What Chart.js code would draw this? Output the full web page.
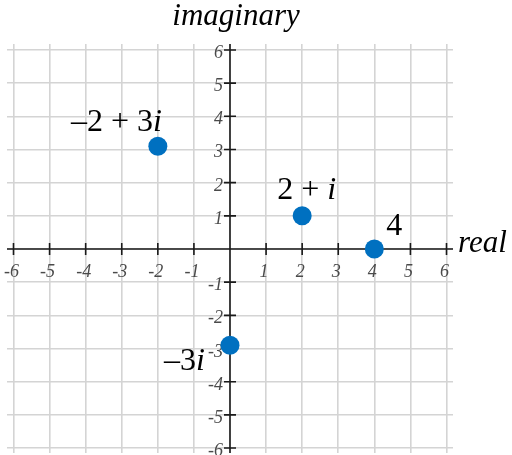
<!DOCTYPE html>
<html>
<head>
<meta charset="utf-8">
<script src="https://cdn.jsdelivr.net/npm/chart.js@4"></script>
<style>
  html, body { margin: 0; padding: 0; background: #fff; }
</style>
</head>
<body>
<canvas id="plane" width="512" height="455"></canvas>
<script>
// complex numbers as (real, imaginary)
const real_parts = [-2, 2, 4, 0];
const imag_parts = [3.1, 1, 0, -2.9];
const point_labels = ["–2 + 3i", "2 + i", "4", "–3i"];
const x_ticks = [-6, -5, -4, -3, -2, -1, 0, 1, 2, 3, 4, 5, 6];
const y_ticks = [-6, -5, -4, -3, -2, -1, 0, 1, 2, 3, 4, 5, 6];

// where each label sits relative to its dot (dx, dy, align)
const label_offsets = [[4, -15, "right"], [-25, -17, "left"], [12, -14, "left"], [-25, 25, "right"]];

const serif = "'Liberation Serif', 'Times New Roman', serif";

function draw_label(ctx, text, px, py, align) {
    const has_i = text.endsWith("i");
    const head = has_i ? text.slice(0, -1) : text;
    ctx.font = `32px ${serif}`;
    const w1 = ctx.measureText(head).width;
    ctx.font = `italic 32px ${serif}`;
    const w2 = has_i ? ctx.measureText("i").width : 0;
    const left = align == "right" ? px - w1 - w2 : px;
    ctx.textAlign = "left";
    ctx.font = `32px ${serif}`;
    ctx.fillText(head, left, py);
    if (has_i) {
        ctx.font = `italic 32px ${serif}`;
        ctx.fillText("i", left + w1, py);
    }
}

const axes_plugin = {
    id: "axes",
    beforeDatasetsDraw(chart) {
        const { ctx, chartArea: a, scales: { x, y } } = chart;
        const x0 = x.getPixelForValue(0);
        const y0 = y.getPixelForValue(0);
        ctx.save();
        ctx.strokeStyle = "#1a1a1a";
        ctx.lineWidth = 1.6;
        ctx.beginPath();
        ctx.moveTo(a.left, y0); ctx.lineTo(a.right, y0);
        ctx.moveTo(x0, a.top); ctx.lineTo(x0, a.bottom);
        for (const v of x_ticks) {
            const px = x.getPixelForValue(v);
            ctx.moveTo(px, y0 - 6); ctx.lineTo(px, y0 + 6);
        }
        for (const v of y_ticks) {
            const py = y.getPixelForValue(v);
            ctx.moveTo(x0 - 6, py); ctx.lineTo(x0 + 6, py);
        }
        ctx.stroke();

        // tick numbers
        ctx.fillStyle = "#4a4a4a";
        ctx.font = `italic 18px ${serif}`;
        ctx.textAlign = "center";
        for (const v of x_ticks) {
            if (v == 0) continue;
            ctx.fillText(String(v), x.getPixelForValue(v) - 2, y0 + 28);
        }
        ctx.textAlign = "right";
        for (const v of y_ticks) {
            if (v == 0) continue;
            ctx.fillText(String(v), x0 - 7, y.getPixelForValue(v) + 8);
        }
        ctx.restore();
    },
    afterDraw(chart) {
        const { ctx, scales: { x, y } } = chart;
        const x0 = x.getPixelForValue(0);
        const y0 = y.getPixelForValue(0);
        ctx.save();
        ctx.fillStyle = "#000";
        ctx.textBaseline = "alphabetic";
        ctx.font = `italic 31px ${serif}`;
        ctx.textAlign = "center";
        ctx.fillText("imaginary", x0 + 6, 25);
        ctx.textAlign = "left";
        ctx.fillText("real", 458, y0 + 3);

        for (let i = 0; i < point_labels.length; i++) {
            const px = x.getPixelForValue(real_parts[i]);
            const py = y.getPixelForValue(imag_parts[i]);
            const [dx, dy, align] = label_offsets[i];
            draw_label(ctx, point_labels[i], px + dx, py + dy, align);
        }
        ctx.restore();
    }
};

const ctx = document.getElementById("plane").getContext("2d");
const chart = new Chart(ctx, {
    type: "scatter",
    data: {
        datasets: [{
            data: real_parts.map((r, i) => ({ x: r, y: imag_parts[i] })),
            backgroundColor: "#0070c0",
            borderWidth: 0,
            pointRadius: 9.5,
            pointHoverRadius: 9.5
        }]
    },
    options: {
        responsive: false,
        animation: false,
        events: [],
        layout: { autoPadding: false, padding: { left: 7, right: 59, top: 44, bottom: 2 } },
        plugins: { legend: { display: false }, tooltip: { enabled: false } },
        scales: {
            x: {
                type: "linear",
                min: -6.18,
                max: 6.18,
                position: { y: 0 },
                afterBuildTicks: (s) => { s.ticks = x_ticks.map((v) => ({ value: v })); },
                afterFit: (s) => { s.height = 0; },
                ticks: { display: false, padding: 0 },
                grid: { color: "#d4d4d4", lineWidth: 1.6, drawTicks: false },
                border: { display: false }
            },
            y: {
                type: "linear",
                min: -6.15,
                max: 6.18,
                position: { x: 0 },
                afterBuildTicks: (s) => { s.ticks = y_ticks.map((v) => ({ value: v })); },
                afterFit: (s) => { s.width = 0; },
                ticks: { display: false, padding: 0 },
                grid: { color: "#d4d4d4", lineWidth: 1.6, drawTicks: false },
                border: { display: false }
            }
        }
    },
    plugins: [axes_plugin]
});
</script>
</body>
</html>
